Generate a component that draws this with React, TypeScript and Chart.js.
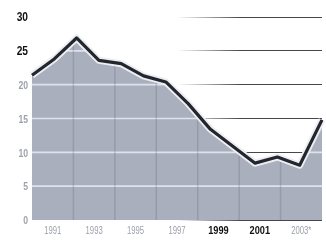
import { useEffect, useRef } from 'react';
import { Chart, registerables } from 'chart.js';

Chart.register(...registerables);

const years = ['1990', '1991', '1992', '1993', '1994', '1995', '1996', '1997', '1998', '1999', '2000', '2001', '2002', '2003'];
const shareValues = [21.4, 23.8, 26.9, 23.6, 23.1, 21.3, 20.4, 17.2, 13.4, 10.9, 8.4, 9.3, 8.1, 14.8];
const axisLabels = ['1991', '1993', '1995', '1997', '1999', '2001', '2003*'];
const boldAxisLabels = ['1999', '2001'];
const yMin = 0;
const yMax = 30;
const yStep = 5;
const boldYTicks = [25, 30];

const FONT = "'Liberation Sans', Arial, sans-serif";

// draws the grid that shows inside the grey area, clipped to it
const innerGrid = {
  id: 'innerGrid',
  afterDatasetDraw(chart: any, args: any) {
    if (args.index !== 0) return;
    const pts = chart.getDatasetMeta(0).data;
    const area = chart.chartArea;
    const ctx = chart.ctx;
    const y = chart.scales.y;
    const x2 = chart.scales.x2;
    ctx.save();
    ctx.beginPath();
    ctx.moveTo(pts[0].x, area.bottom);
    pts.forEach((p: any) => ctx.lineTo(p.x, p.y));
    ctx.lineTo(pts[pts.length - 1].x, area.bottom);
    ctx.closePath();
    ctx.clip();
    ctx.strokeStyle = 'rgba(236,239,245,0.8)';
    ctx.lineWidth = 1.6;
    y.ticks.forEach((t: any) => {
      if (t.value <= 0) return;
      const py = y.getPixelForValue(t.value);
      ctx.beginPath();
      ctx.moveTo(area.left, py);
      ctx.lineTo(area.right, py);
      ctx.stroke();
    });
    ctx.strokeStyle = 'rgba(90,95,110,0.25)';
    ctx.lineWidth = 1.5;
    for (let i = 1; i < x2.ticks.length; i++) {
      const px = (x2.getPixelForTick(i - 1) + x2.getPixelForTick(i)) / 2;
      ctx.beginPath();
      ctx.moveTo(px, area.top);
      ctx.lineTo(px, area.bottom);
      ctx.stroke();
    }
    ctx.restore();
  },
};

// condensed tick labels (no narrow font installed), placed by the scales
const condensedLabels = {
  id: 'condensedLabels',
  afterDraw(chart: any) {
    const ctx = chart.ctx;
    const x2 = chart.scales.x2;
    const y = chart.scales.y;
    ctx.save();
    x2.ticks.forEach((t: any, i: number) => {
      const label = axisLabels[i];
      const bold = boldAxisLabels.includes(label);
      ctx.save();
      ctx.translate(x2.getPixelForTick(i), x2.top + 11);
      ctx.scale(bold ? 0.8 : 0.7, 1);
      ctx.font = bold ? `bold 11.5px ${FONT}` : `11px ${FONT}`;
      ctx.fillStyle = bold ? '#111' : '#9a9ea8';
      ctx.textAlign = 'center';
      ctx.textBaseline = 'middle';
      ctx.fillText(label, 0, 0);
      ctx.restore();
    });
    y.ticks.forEach((t: any) => {
      const bold = boldYTicks.includes(t.value);
      ctx.save();
      ctx.translate(y.right - 4, y.getPixelForValue(t.value) + 1);
      ctx.scale(bold ? 0.85 : 0.75, 1);
      ctx.font = `bold ${bold ? 12 : 11.5}px ${FONT}`;
      ctx.fillStyle = bold ? '#111' : '#9ea2ab';
      ctx.textAlign = 'right';
      ctx.textBaseline = 'middle';
      ctx.fillText(String(t.value), 0, 0);
      ctx.restore();
    });
    ctx.restore();
  },
};

export default function App() {
  const ref = useRef<HTMLCanvasElement | null>(null);
  useEffect(() => {
    if (!ref.current) return;
    const chart = new Chart(ref.current, {
      type: 'line',
      data: {
        labels: years,
        datasets: [
          {
            data: shareValues,
            order: 3,
            fill: 'start',
            backgroundColor: '#a9afbd',
            borderWidth: 0,
            pointRadius: 0,
            tension: 0,
          },
          {
            data: shareValues,
            order: 2,
            fill: false,
            borderColor: '#eceef2',
            borderWidth: 7,
            pointRadius: 0,
            tension: 0,
            borderJoinStyle: 'round',
          },
          {
            data: shareValues,
            order: 1,
            fill: false,
            borderColor: '#23272d',
            borderWidth: 3.2,
            pointRadius: 0,
            tension: 0,
            borderJoinStyle: 'round',
          },
        ],
      },
      options: {
        animation: false,
        responsive: false,
        events: [],
        layout: { padding: { top: 17, right: 4, left: 0, bottom: 0 } },
        plugins: { legend: { display: false }, tooltip: { enabled: false } },
        scales: {
          x: { type: 'category', display: false, offset: false },
          x2: {
            type: 'category',
            labels: axisLabels,
            position: 'bottom',
            offset: true,
            grid: { display: false, drawTicks: false },
            border: { display: false },
            ticks: {
              padding: 4,
              autoSkip: false,
              maxRotation: 0,
              color: 'rgba(0,0,0,0)',
              font: { family: FONT, size: 10 },
            },
            afterFit: (axis: any) => {
              axis.height = 20;
              axis.paddingLeft = 0;
              axis.paddingRight = 0;
            },
          },
          y: {
            min: yMin,
            max: yMax,
            border: { display: false },
            grid: {
              drawTicks: false,
              lineWidth: 1,
              color: (c: any) => {
                const area = c.chart.chartArea;
                if (!area) return 'rgba(0,0,0,0)';
                const g = c.chart.ctx.createLinearGradient(area.left, 0, area.right, 0);
                g.addColorStop(0, 'rgba(25,25,25,0)');
                g.addColorStop(0.5, 'rgba(25,25,25,0)');
                g.addColorStop(0.72, 'rgba(25,25,25,0.8)');
                g.addColorStop(1, 'rgba(25,25,25,0.8)');
                return g;
              },
            },
            ticks: {
              stepSize: yStep,
              padding: 4,
              color: 'rgba(0,0,0,0)',
              font: { family: FONT, size: 11 },
            },
            afterFit: (axis: any) => {
              axis.width = 32;
              axis.paddingTop = 0;
              axis.paddingBottom = 0;
            },
          },
        },
      },
      plugins: [innerGrid, condensedLabels],
    });
    return () => chart.destroy();
  }, []);
  return (
    <div style={{ position: 'fixed', left: 0, top: 0, width: 326, height: 240, background: '#fff' }}>
      <canvas ref={ref} width={326} height={240} />
    </div>
  );
}
